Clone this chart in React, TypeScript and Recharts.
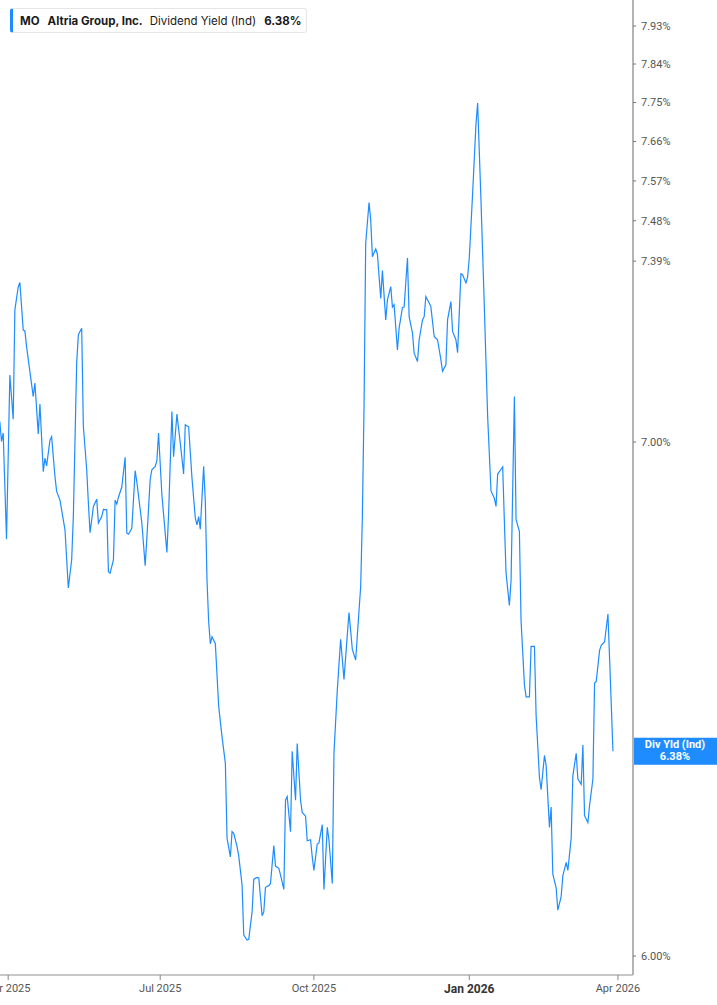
import React from 'react'
import { LineChart, Line, XAxis, YAxis, ReferenceLine } from 'recharts'

// [days since 1 Apr 2025, dividend yield %]
const aprJun2025: [number, number][] = [
  [-5, 7.043], [-4, 7.001], [-3, 7.019], [-1, 6.799], [1, 7.142], [3, 7.048], [4, 7.283], [6, 7.333],
  [7, 7.343], [9, 7.239], [10, 7.237], [11, 7.203], [15, 7.096], [16, 7.125], [18, 7.017], [19, 7.08],
  [21, 6.938], [22, 6.966], [23, 6.95], [25, 7.004], [26, 7.011], [28, 6.928], [29, 6.897], [31, 6.879],
  [34, 6.818], [36, 6.7], [38, 6.757], [39, 6.845], [41, 7.168], [42, 7.229], [44, 7.243], [45, 7.033],
  [47, 6.942], [48, 6.873], [49, 6.812], [51, 6.866], [53, 6.881], [54, 6.832], [56, 6.845], [57, 6.86],
  [59, 6.859], [60, 6.733], [61, 6.73], [63, 6.757], [64, 6.879], [65, 6.871], [66, 6.885], [68, 6.906],
  [70, 6.968], [71, 6.811], [72, 6.809], [74, 6.821], [76, 6.94], [77, 6.917], [80, 6.832], [82, 6.745],
  [83, 6.801], [85, 6.922], [86, 6.942], [88, 6.949], [89, 6.961], [90, 7.019],
]

const julSep2025: [number, number][] = [
  [92, 6.89], [95, 6.772], [96, 6.849], [98, 7.064], [99, 6.969], [101, 7.059], [103, 6.998], [105, 6.933],
  [106, 7.036], [108, 7.032], [110, 6.925], [112, 6.842], [113, 6.828], [114, 6.845], [115, 6.819], [117, 6.949],
  [118, 6.876], [119, 6.716], [120, 6.633], [121, 6.589], [122, 6.603], [124, 6.589], [126, 6.466], [128, 6.408],
  [130, 6.357], [131, 6.216], [133, 6.181], [134, 6.228], [135, 6.225], [137, 6.2], [138, 6.183], [140, 6.129],
  [141, 6.038], [143, 6.029], [144, 6.03], [146, 6.08], [147, 6.14], [149, 6.143], [150, 6.142], [152, 6.073],
  [153, 6.08], [154, 6.125], [156, 6.128], [157, 6.132], [159, 6.202], [160, 6.164], [162, 6.16], [163, 6.148],
  [165, 6.121], [166, 6.287], [167, 6.294], [169, 6.228], [170, 6.38], [172, 6.287], [173, 6.395], [175, 6.287],
  [176, 6.264], [178, 6.257], [179, 6.211], [181, 6.213], [182, 6.181],
]

const octDec2025: [number, number][] = [
  [183, 6.156], [185, 6.205], [186, 6.207], [188, 6.241], [189, 6.121], [191, 6.236], [192, 6.213], [194, 6.132],
  [195, 6.376], [197, 6.498], [199, 6.598], [201, 6.519], [204, 6.651], [206, 6.578], [208, 6.557], [210, 6.655],
  [211, 6.703], [212, 6.845], [213, 7.075], [214, 7.43], [216, 7.521], [217, 7.482], [218, 7.4], [220, 7.417],
  [221, 7.406], [223, 7.308], [224, 7.369], [226, 7.261], [227, 7.305], [229, 7.334], [230, 7.289], [231, 7.294],
  [233, 7.196], [234, 7.243], [236, 7.288], [237, 7.289], [239, 7.397], [240, 7.268], [242, 7.232], [243, 7.189],
  [245, 7.171], [246, 7.218], [248, 7.261], [249, 7.268], [250, 7.312], [252, 7.298], [253, 7.29], [255, 7.225],
  [257, 7.218], [259, 7.175], [260, 7.15], [262, 7.164], [263, 7.261], [265, 7.301], [266, 7.236], [268, 7.218],
  [269, 7.19], [271, 7.362], [272, 7.36], [274, 7.342],
]

const janMar2026: [number, number][] = [
  [275, 7.355], [276, 7.397], [278, 7.542], [280, 7.7], [281, 7.749], [283, 7.527], [285, 7.29], [287, 7.053],
  [289, 6.898], [291, 6.883], [292, 6.866], [293, 6.933], [295, 6.943], [296, 6.948], [297, 6.836], [298, 6.731],
  [300, 6.665], [301, 6.714], [303, 7.096], [304, 6.839], [306, 6.815], [307, 6.634], [309, 6.509], [310, 6.485],
  [312, 6.485], [313, 6.584], [315, 6.584], [316, 6.449], [318, 6.33], [319, 6.307], [321, 6.372], [322, 6.353],
  [324, 6.236], [325, 6.274], [326, 6.149], [328, 6.124], [329, 6.083], [331, 6.108], [332, 6.146], [334, 6.171],
  [335, 6.156], [337, 6.216], [338, 6.333], [340, 6.376], [341, 6.327], [343, 6.317], [344, 6.392], [345, 6.258],
  [347, 6.245], [348, 6.277], [350, 6.327], [351, 6.512], [352, 6.515], [354, 6.576], [355, 6.586], [357, 6.593],
  [359, 6.648], [360, 6.559], [362, 6.38],
]

const monthTicks = [0, 91, 183, 276, 365]
const monthLabels = ['Apr 2025', 'Jul 2025', 'Oct 2025', 'Jan 2026', 'Apr 2026']
const yieldTicks = [6.0, 7.0, 7.39, 7.48, 7.57, 7.66, 7.75, 7.84, 7.93]

const BLUE = '#1e8cff'
const FONT = 'Roboto, "Liberation Sans", sans-serif'

const data = [...aprJun2025, ...julSep2025, ...octDec2025, ...janMar2026].map(([day, yld]) => ({ day, yld }))
const lastYield = data[data.length - 1].yld

function MonthTick({ x, y, payload }: { x?: number; y?: number; payload?: { value: number } }) {
  const i = monthTicks.indexOf(payload?.value ?? -1)
  const label = monthLabels[i] ?? ''
  const isYear = label.startsWith('Jan')
  return (
    <text
      x={x}
      y={y}
      dy="0.71em"
      textAnchor="middle"
      fontFamily={FONT}
      fontSize={isYear ? 12 : 11}
      fontWeight={isYear ? 700 : 400}
      fill={isYear ? '#333' : '#555'}
    >
      {label}
    </text>
  )
}

function LastTag(props: any) {
  const vb = props.viewBox || {}
  const x = (vb.x ?? 0) + (vb.width ?? 0)
  const y = vb.y ?? 0
  return (
    <g>
      <rect x={x} y={y - 13.5} width={84} height={27} fill={BLUE} />
      <text x={x + 42} y={y - 3} textAnchor="middle" fontFamily={FONT} fontSize={11} fontWeight={700} fill="#fff">
        Div Yld (Ind)
      </text>
      <text x={x + 42} y={y + 9} textAnchor="middle" fontFamily={FONT} fontSize={11} fontWeight={700} fill="#fff">
        {lastYield.toFixed(2)}%
      </text>
    </g>
  )
}

export default function App() {
  return (
    <div style={{ position: 'absolute', left: 0, top: 0, width: 717, height: 1005, background: '#fff', overflow: 'hidden' }}>
      <LineChart width={717} height={1005} data={data} margin={{ top: 0, right: 0, bottom: 0, left: 0 }}>
        <XAxis
          dataKey="day"
          type="number"
          domain={[-4.9, 374]}
          allowDataOverflow
          ticks={monthTicks}
          interval={0}
          tick={<MonthTick />}
          tickSize={5}
          tickMargin={4}
          tickLine={{ stroke: '#888' }}
          axisLine={{ stroke: '#b4b4b4', strokeWidth: 1.5 }}
          height={30}
        />
        <YAxis
          orientation="right"
          scale="log"
          domain={[5.966, 7.992]}
          allowDataOverflow
          ticks={yieldTicks}
          interval={0}
          tickFormatter={(v: number) => `${v.toFixed(2)}%`}
          width={84}
          tickSize={3}
          tickMargin={5}
          tick={{ fontSize: 11, fill: '#555', fontFamily: FONT }}
          tickLine={{ stroke: '#777' }}
          axisLine={{ stroke: '#b4b4b4', strokeWidth: 2 }}
        />
        <ReferenceLine y={lastYield} stroke="none" ifOverflow="visible" label={(p: any) => <LastTag {...p} />} />
        <Line type="linear" dataKey="yld" stroke={BLUE} strokeWidth={1.2} dot={false} isAnimationActive={false} />
      </LineChart>
      <div
        style={{
          position: 'absolute',
          left: 10,
          top: 8,
          height: 25,
          width: 297,
          boxSizing: 'border-box',
          display: 'flex',
          alignItems: 'center',
          background: '#fff',
          border: '1px solid #e6e6e6',
          borderLeft: `3px solid ${BLUE}`,
          borderRadius: 3,
          fontFamily: 'Inter, "Noto Sans", sans-serif',
          fontSize: 11.5,
          color: '#1a1a1a',
          paddingLeft: 7,
          whiteSpace: 'nowrap',
        }}
      >
        <span style={{ fontWeight: 700 }}>MO</span>
        <span style={{ fontWeight: 700, marginLeft: 8 }}>Altria Group, Inc.</span>
        <span style={{ marginLeft: 7 }}>Dividend Yield (Ind)</span>
        <span style={{ fontWeight: 700, marginLeft: 8 }}>6.38%</span>
      </div>
    </div>
  )
}
